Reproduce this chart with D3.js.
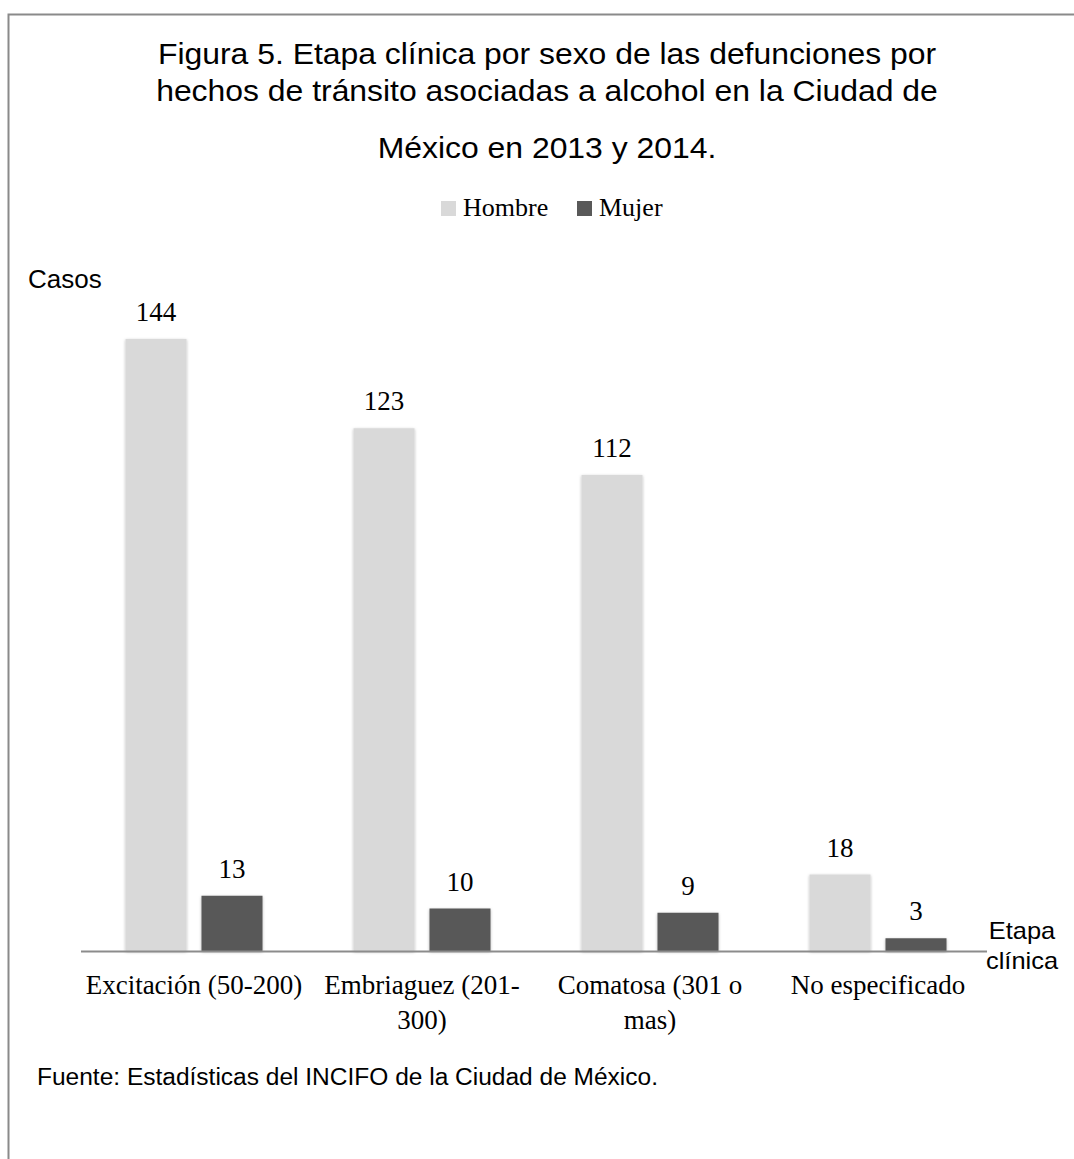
<!DOCTYPE html>
<html>
<head>
<meta charset="utf-8">
<script src="https://cdn.jsdelivr.net/npm/d3@7"></script>
<style>
  html, body { margin: 0; padding: 0; background: #fff; }
  svg { display: block; }
</style>
</head>
<body>
<svg id="chart" width="1074" height="1159"></svg>
<script>
// Alcohol-related traffic deaths by clinical stage and sex, Mexico City 2013–2014
const categories = ["Excitación (50-200)", "Embriaguez (201-300)", "Comatosa (301 o mas)", "No especificado"];
const categoryLines = [["Excitación (50-200)"], ["Embriaguez (201-", "300)"], ["Comatosa (301 o", "mas)"], ["No especificado"]];
const seriesNames = ["Hombre", "Mujer"];
const hombre = [144, 123, 112, 18];
const mujer = [13, 10, 9, 3];
const titleLines = [
  "Figura 5. Etapa clínica por sexo de las defunciones por",
  "hechos de tránsito asociadas a alcohol en la Ciudad de",
  "México en 2013 y 2014."
];
const yTitle = "Casos";
const xTitleLines = ["Etapa", "clínica"];
const sourceNote = "Fuente: Estadísticas del INCIFO de la Ciudad de México.";

const colors = { Hombre: "#d9d9d9", Mujer: "#595959" };
const serif = "'Liberation Serif', 'Times New Roman', serif";
const sans = "'Liberation Sans', Arial, sans-serif";

const svg = d3.select("#chart");

// drop shadow used on the bars
const defs = svg.append("defs");
const f = defs.append("filter").attr("id", "barShadow")
  .attr("x", "-20%").attr("y", "-20%").attr("width", "140%").attr("height", "140%");
f.append("feDropShadow").attr("dx", 0).attr("dy", 1).attr("stdDeviation", 1.4)
  .attr("flood-color", "#000").attr("flood-opacity", 0.28);

// outer frame
svg.append("rect")
  .attr("x", 8.5).attr("y", 14.5).attr("width", 1100).attr("height", 1200)
  .attr("fill", "none").attr("stroke", "#8a8a8a").attr("stroke-width", 2);

// scales
const baseY = 951;
const x = d3.scaleBand().domain(categories).range([80, 992]).padding(0);
const xs = d3.scaleBand().domain(seriesNames).range([45.5, 182.5]).paddingInner(0.197).paddingOuter(0);
const y = d3.scaleLinear().domain([0, 160]).range([baseY, baseY - 680]);

const rows = categories.map((c, i) => ({ cat: c, Hombre: hombre[i], Mujer: mujer[i] }));

// title
const tg = svg.append("g").attr("transform", "translate(547,0) scale(1.1,1)");
tg.selectAll("text").data(titleLines).join("text")
  .attr("x", 0)
  .attr("y", (d, i) => [64, 101, 158][i])
  .attr("text-anchor", "middle")
  .attr("font-family", sans).attr("font-size", 29).attr("fill", "#000")
  .text(d => d);

// legend
const legend = svg.append("g");
const legendX = [441, 577];
seriesNames.forEach((s, i) => {
  legend.append("rect").attr("x", legendX[i]).attr("y", 201).attr("width", 15).attr("height", 15)
    .attr("fill", colors[s]);
  legend.append("text").attr("x", legendX[i] + 22).attr("y", 216)
    .attr("font-family", serif).attr("font-size", 26).attr("fill", "#000").text(s);
});

// bars
const groups = svg.append("g").selectAll("g").data(rows).join("g")
  .attr("transform", d => `translate(${x(d.cat)},0)`);

groups.selectAll("rect").data(d => seriesNames.map(s => ({ s, v: d[s] }))).join("rect")
  .attr("x", d => xs(d.s))
  .attr("y", d => y(d.v))
  .attr("width", xs.bandwidth())
  .attr("height", d => y(0) - y(d.v))
  .attr("fill", d => colors[d.s])
  .attr("filter", "url(#barShadow)");

// value labels
groups.selectAll("text").data(d => seriesNames.map(s => ({ s, v: d[s] }))).join("text")
  .attr("x", d => xs(d.s) + xs.bandwidth() / 2)
  .attr("y", d => y(d.v) - 18)
  .attr("text-anchor", "middle")
  .attr("font-family", serif).attr("font-size", 27).attr("fill", "#000")
  .text(d => d.v);

// category axis
const xAxis = svg.append("g").attr("transform", `translate(0,${baseY + 0.5})`)
  .call(d3.axisBottom(x).tickSize(0).tickFormat(""));
xAxis.select(".domain").attr("d", `M${x.range()[0] + 1},0H987`)
  .attr("stroke", "#8c8c8c").attr("stroke-width", 2);

const tickLabels = svg.append("g");
categories.forEach((c, i) => {
  const t = tickLabels.append("text")
    .attr("text-anchor", "middle")
    .attr("font-family", serif).attr("font-size", 27).attr("fill", "#000");
  categoryLines[i].forEach((line, j) => {
    t.append("tspan").attr("x", x(c) + x.bandwidth() / 2).attr("y", 994 + j * 35).text(line);
  });
});

// axis titles
svg.append("text").attr("x", 28).attr("y", 288)
  .attr("font-family", sans).attr("font-size", 26).attr("fill", "#000").text(yTitle);

const xt = svg.append("g").attr("transform", "translate(1022,0) scale(1.06,1)");
xt.selectAll("text").data(xTitleLines).join("text")
  .attr("x", 0).attr("y", (d, i) => 939 + i * 30)
  .attr("text-anchor", "middle")
  .attr("font-family", sans).attr("font-size", 24).attr("fill", "#000")
  .text(d => d);

// source note
svg.append("text").attr("x", 37).attr("y", 1085)
  .attr("font-family", sans).attr("font-size", 23).attr("fill", "#000")
  .attr("textLength", 621).attr("lengthAdjust", "spacingAndGlyphs")
  .text(sourceNote);
</script>
</body>
</html>
